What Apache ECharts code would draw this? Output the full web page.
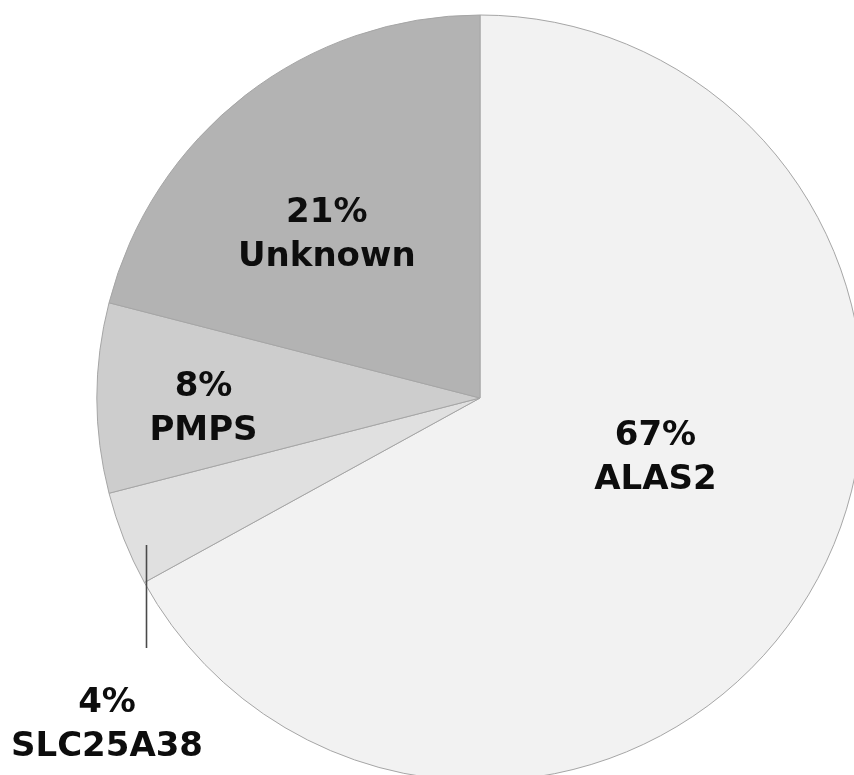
<!DOCTYPE html>
<html>
<head>
<meta charset="utf-8">
<script src="https://cdn.jsdelivr.net/npm/echarts@6/dist/echarts.min.js"></script>
<style>
html,body{margin:0;padding:0;background:#fff;}
#chart{width:854px;height:775px;}
</style>
</head>
<body>
<div id="chart"></div>
<script>
const categories = ['ALAS2', 'SLC25A38', 'PMPS', 'Unknown'];
const percents = [67, 4, 8, 21];
const sliceColors = ['#f2f2f2', '#e0e0e0', '#cdcdcd', '#b3b3b3'];
const labelOffsets = [[8, -39], [0, 0], [-82, 11], [-34, -9]];

const chart = echarts.init(document.getElementById('chart'), null, {renderer: 'canvas'});

const data = categories.map((name, i) => ({
  name: name,
  value: percents[i],
  itemStyle: {color: sliceColors[i]},
  label: i === 1 ? {position: 'outside'} : {position: 'inside', offset: labelOffsets[i]},
  labelLine: {show: false}
}));

chart.setOption({
  backgroundColor: '#ffffff',
  animation: false,
  graphic: [{
    type: 'line',
    z: 100,
    shape: {x1: 146.5, y1: 545, x2: 146.5, y2: 648},
    style: {stroke: '#4a4a4a', lineWidth: 1.6}
  }],
  series: [{
    type: 'pie',
    center: [480, 398],
    radius: [0, 383],
    startAngle: 90,
    clockwise: true,
    avoidLabelOverlap: false,
    data: data,
    itemStyle: {borderColor: '#a6a6a6', borderWidth: 1},
    label: {
      show: true,
      formatter: p => p.value + '%\n' + p.name,
      fontFamily: 'DejaVu Sans',
      fontWeight: 'bold',
      fontSize: 34,
      lineHeight: 44,
      color: '#0d0d0d',
      align: 'center'
    },
    emphasis: {disabled: true},
    labelLayout: function (params) {
      if (params.dataIndex === 1) {
        return {x: 107, y: 725, align: 'center', verticalAlign: 'middle'};
      }
      return {};
    }
  }]
});
</script>
</body>
</html>
